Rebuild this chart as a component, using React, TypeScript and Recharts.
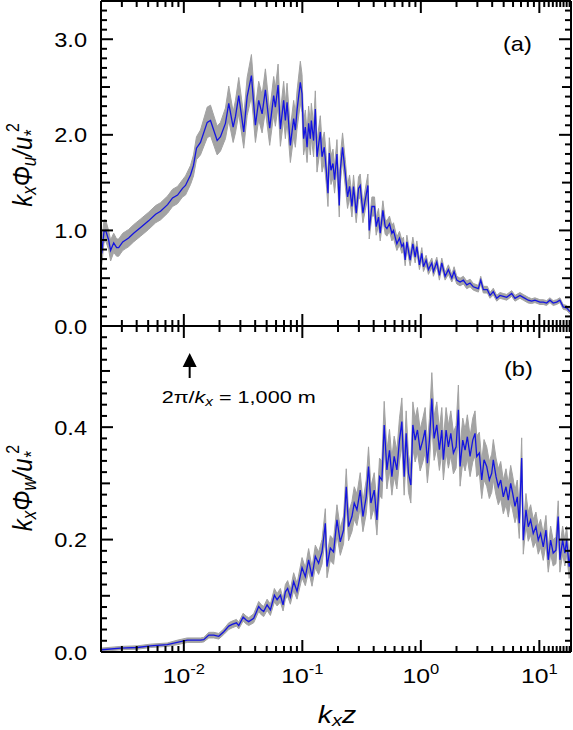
import { Area, ComposedChart, Line, ReferenceDot, XAxis, YAxis } from "recharts";

const FONT = '"Liberation Sans", Arial, Helvetica, sans-serif';
const STRETCH = 1.18;
const BLUE = "#1414e0";
const GREY = "#a3a3a3";

// kx*z values
const KZ_U = [
  0.00203, 0.00212, 0.00219, 0.00232, 0.00241, 0.00256, 0.00271, 0.00282, 0.00305, 0.00323,
  0.00342, 0.00377, 0.00432, 0.00504, 0.00578, 0.00636, 0.00729, 0.00803, 0.00885, 0.00975,
  0.01033, 0.01139, 0.01207, 0.01279, 0.01382, 0.01575, 0.01679, 0.01911, 0.02038, 0.02245,
  0.02394, 0.02607, 0.02727, 0.02907, 0.03203, 0.03421, 0.03719, 0.04018, 0.04283, 0.04576,
  0.04879, 0.05303, 0.05731, 0.05923, 0.06243, 0.06528, 0.06958, 0.07191, 0.07432, 0.07923,
  0.08449, 0.0873, 0.09022, 0.09618, 0.09942, 0.1025, 0.106, 0.1096, 0.113, 0.1168,
  0.1191, 0.1245, 0.1287, 0.133, 0.1418, 0.1466, 0.1532, 0.1593, 0.1646, 0.1689,
  0.1745, 0.1814, 0.1871, 0.196, 0.205, 0.209, 0.2185, 0.2303, 0.2408, 0.2503,
  0.2622, 0.2705, 0.285, 0.298, 0.308, 0.3246, 0.3394, 0.3576, 0.3668, 0.3865,
  0.4065, 0.4201, 0.4393, 0.454, 0.4785, 0.5004, 0.5172, 0.5438, 0.5697, 0.5877,
  0.6278, 0.6603, 0.6917, 0.7135, 0.7375, 0.7622, 0.8125, 0.8562, 0.8954, 0.9255,
  0.9731, 1.0195, 1.052, 1.108, 1.159, 1.238, 1.277, 1.364, 1.434, 1.503,
  1.602, 1.708, 1.825, 1.908, 2.011, 2.144, 2.285, 2.441, 2.603, 2.774,
  3.057, 3.203, 3.369, 3.64, 3.835, 4.089, 4.369, 4.658, 4.966, 5.303,
  5.844, 6.23, 6.865, 7.318, 8.064, 8.611, 9.182, 10.12, 10.79, 11.52,
  12.28, 13.09, 13.99, 14.91, 15.9, 16.98, 18.11,
];

// kx Phi_u / u*^2
const PHI_U = [
  0.76, 0.99, 1.0, 0.9, 0.79, 0.87, 0.82, 0.82, 0.88, 0.9,
  0.92, 0.97, 1.03, 1.1, 1.17, 1.2, 1.27, 1.34, 1.37, 1.44,
  1.47, 1.58, 1.68, 1.86, 1.92, 2.13, 2.15, 1.94, 1.98, 2.12,
  2.33, 2.08, 2.19, 2.41, 2.03, 2.4, 2.62, 2.1, 2.36, 2.22,
  2.47, 2.07, 2.41, 2.29, 2.52, 2.06, 2.36, 2.15, 2.34, 1.89,
  2.17, 2.05, 2.26, 2.55, 2.43, 1.96, 2.08, 1.87, 2.12, 1.96,
  2.15, 1.94, 2.27, 1.77, 2.03, 1.77, 1.87, 1.63, 1.39, 1.81,
  1.63, 1.7, 1.53, 1.8, 1.26, 1.63, 1.87, 1.6, 1.35, 1.46,
  1.25, 1.46, 1.18, 1.44, 1.47, 1.18, 1.32, 1.47, 1.0, 1.25,
  1.25, 1.04, 1.14, 0.97, 1.21, 1.04, 1.02, 1.07, 0.97, 1.0,
  0.86, 0.92, 0.83, 0.86, 0.69, 0.88, 0.69, 0.86, 0.72, 0.83,
  0.64, 0.76, 0.62, 0.69, 0.59, 0.66, 0.57, 0.67, 0.53, 0.66,
  0.52, 0.59, 0.5, 0.57, 0.48, 0.46, 0.48, 0.43, 0.45, 0.41,
  0.39, 0.48, 0.38, 0.38, 0.32, 0.36, 0.29, 0.32, 0.31, 0.3,
  0.34, 0.29, 0.32, 0.3, 0.27, 0.26, 0.27, 0.25, 0.25, 0.24,
  0.27, 0.24, 0.25, 0.27, 0.2, 0.19, 0.15,
];

// half-width of the grey band, panel (a)
const ERR_U = [
  0.12, 0.12, 0.11, 0.1, 0.11, 0.1, 0.09, 0.09, 0.09, 0.09,
  0.09, 0.09, 0.09, 0.09, 0.09, 0.09, 0.09, 0.09, 0.09, 0.09,
  0.1, 0.1, 0.11, 0.12, 0.13, 0.16, 0.16, 0.15, 0.15, 0.16,
  0.18, 0.16, 0.17, 0.19, 0.17, 0.2, 0.22, 0.18, 0.2, 0.2,
  0.22, 0.18, 0.2, 0.2, 0.22, 0.18, 0.2, 0.19, 0.2, 0.18,
  0.19, 0.18, 0.2, 0.22, 0.2, 0.17, 0.18, 0.16, 0.18, 0.17,
  0.18, 0.17, 0.19, 0.16, 0.17, 0.16, 0.16, 0.15, 0.14, 0.16,
  0.15, 0.15, 0.14, 0.15, 0.12, 0.14, 0.15, 0.14, 0.12, 0.12,
  0.11, 0.12, 0.1, 0.12, 0.12, 0.1, 0.11, 0.12, 0.09, 0.1,
  0.1, 0.09, 0.09, 0.08, 0.1, 0.08, 0.08, 0.08, 0.08, 0.08,
  0.07, 0.07, 0.07, 0.07, 0.06, 0.07, 0.06, 0.07, 0.06, 0.06,
  0.05, 0.06, 0.05, 0.05, 0.05, 0.05, 0.05, 0.05, 0.05, 0.05,
  0.04, 0.05, 0.04, 0.05, 0.04, 0.04, 0.04, 0.04, 0.04, 0.035,
  0.035, 0.04, 0.035, 0.035, 0.03, 0.035, 0.03, 0.03, 0.03, 0.03,
  0.03, 0.03, 0.03, 0.03, 0.03, 0.025, 0.025, 0.025, 0.025, 0.025,
  0.025, 0.025, 0.025, 0.025, 0.025, 0.025, 0.025,
];

// kx*z values
const KZ_W = [
  0.00203, 0.00293, 0.00405, 0.00524, 0.00725, 0.0088, 0.01068, 0.01382, 0.01474, 0.01624,
  0.01789, 0.01972, 0.02173, 0.02394, 0.02557, 0.0278, 0.02907, 0.03165, 0.03355, 0.03528,
  0.03888, 0.04283, 0.04514, 0.04721, 0.05042, 0.05376, 0.05809, 0.06123, 0.06528, 0.06877,
  0.07191, 0.07518, 0.07923, 0.08449, 0.09022, 0.09942, 0.106, 0.113, 0.1207, 0.1287,
  0.1372, 0.1466, 0.1563, 0.1615, 0.1722, 0.1835, 0.196, 0.209, 0.2228, 0.2348,
  0.2455, 0.2622, 0.2742, 0.2889, 0.308, 0.3246, 0.3461, 0.3619, 0.3791, 0.4043,
  0.4259, 0.4479, 0.4693, 0.4907, 0.5172, 0.5438, 0.5697, 0.5958, 0.6278, 0.6603,
  0.6917, 0.7233, 0.7519, 0.7862, 0.8237, 0.8562, 0.8954, 0.9363, 0.9865, 1.04,
  1.087, 1.136, 1.182, 1.238, 1.294, 1.364, 1.434, 1.503, 1.55, 1.634,
  1.708, 1.79, 1.883, 1.984, 2.074, 2.144, 2.258, 2.362, 2.469, 2.603,
  2.742, 2.867, 2.963, 3.117, 3.265, 3.414, 3.597, 3.783, 3.963, 4.089,
  4.31, 4.507, 4.721, 4.966, 5.231, 5.47, 5.73, 5.958, 6.23, 6.514,
  6.772, 7.095, 7.318, 7.712, 8.064, 8.446, 8.884, 9.363, 9.788, 10.25,
  10.79, 11.37, 11.89, 12.45, 13.09, 13.8, 14.43, 14.91, 15.72, 16.44,
  16.98, 17.86, 18.46,
];

// kx Phi_w / u*^2
const PHI_W = [
  0.004, 0.007, 0.008, 0.011, 0.013, 0.017, 0.021, 0.021, 0.022, 0.03,
  0.03, 0.028, 0.036, 0.046, 0.049, 0.052, 0.047, 0.062, 0.057, 0.054,
  0.06, 0.081, 0.075, 0.072, 0.084, 0.075, 0.101, 0.093, 0.101, 0.084,
  0.107, 0.113, 0.098, 0.125, 0.108, 0.15, 0.134, 0.164, 0.134, 0.17,
  0.158, 0.178, 0.229, 0.152, 0.185, 0.178, 0.235, 0.196, 0.217, 0.294,
  0.223, 0.241, 0.265, 0.253, 0.288, 0.241, 0.276, 0.33, 0.265, 0.288,
  0.235, 0.312, 0.306, 0.404, 0.324, 0.359, 0.312, 0.348, 0.324, 0.377,
  0.41, 0.312, 0.389, 0.318, 0.297, 0.404, 0.377, 0.395, 0.359, 0.377,
  0.395, 0.336, 0.377, 0.451, 0.38, 0.404, 0.36, 0.395, 0.342, 0.395,
  0.365, 0.389, 0.354, 0.365, 0.431, 0.33, 0.377, 0.359, 0.383, 0.348,
  0.377, 0.389, 0.348, 0.354, 0.306, 0.342, 0.33, 0.306, 0.318, 0.342,
  0.312, 0.294, 0.306, 0.276, 0.294, 0.27, 0.3, 0.282, 0.259, 0.276,
  0.229, 0.345, 0.199, 0.253, 0.223, 0.235, 0.211, 0.223, 0.199, 0.211,
  0.187, 0.217, 0.164, 0.199, 0.176, 0.181, 0.241, 0.164, 0.199, 0.176,
  0.199, 0.152, 0.181,
];

// half-width of the grey band, panel (b)
const ERR_W = [
  0.003, 0.003, 0.003, 0.003, 0.003, 0.004, 0.004, 0.004, 0.004, 0.005,
  0.005, 0.005, 0.005, 0.006, 0.006, 0.006, 0.006, 0.007, 0.007, 0.007,
  0.008, 0.009, 0.009, 0.009, 0.01, 0.01, 0.012, 0.011, 0.012, 0.011,
  0.013, 0.014, 0.013, 0.016, 0.014, 0.018, 0.016, 0.02, 0.017, 0.02,
  0.02, 0.022, 0.026, 0.02, 0.022, 0.022, 0.027, 0.024, 0.025, 0.032,
  0.025, 0.027, 0.029, 0.028, 0.031, 0.027, 0.03, 0.035, 0.029, 0.031,
  0.027, 0.033, 0.033, 0.042, 0.034, 0.037, 0.033, 0.036, 0.034, 0.039,
  0.042, 0.033, 0.04, 0.034, 0.032, 0.041, 0.039, 0.04, 0.037, 0.039,
  0.04, 0.035, 0.039, 0.046, 0.039, 0.041, 0.037, 0.04, 0.036, 0.04,
  0.038, 0.04, 0.037, 0.038, 0.044, 0.035, 0.039, 0.037, 0.039, 0.036,
  0.039, 0.04, 0.036, 0.037, 0.033, 0.036, 0.035, 0.033, 0.034, 0.036,
  0.033, 0.032, 0.033, 0.03, 0.032, 0.03, 0.032, 0.031, 0.029, 0.03,
  0.027, 0.036, 0.025, 0.029, 0.026, 0.027, 0.025, 0.026, 0.025, 0.025,
  0.024, 0.026, 0.022, 0.025, 0.023, 0.024, 0.028, 0.022, 0.025, 0.023,
  0.025, 0.021, 0.024,
];

const KZ_DOMAIN = [0.002, 18.5];
const X_TICKS = [
  0.002, 0.003, 0.004, 0.005, 0.006, 0.007, 0.008, 0.009,
  0.01, 0.02, 0.03, 0.04, 0.05, 0.06, 0.07, 0.08, 0.09,
  0.1, 0.2, 0.3, 0.4, 0.5, 0.6, 0.7, 0.8, 0.9,
  1, 2, 3, 4, 5, 6, 7, 8, 9,
  10, 11, 12, 13, 14, 15, 16, 17, 18,
];
const X_MAJOR = [0.01, 0.1, 1, 10];
const X_EXP = ["-2", "-1", "0", "1"];

const Y_DOMAIN_U = [0, 3.4];
const Y_TICKS_U = [
  0, 0.1, 0.2, 0.3, 0.4, 0.5, 0.6, 0.7, 0.8, 0.9, 1, 1.1, 1.2, 1.3, 1.4, 1.5, 1.6, 1.7,
  1.8, 1.9, 2, 2.1, 2.2, 2.3, 2.4, 2.5, 2.6, 2.7, 2.8, 2.9, 3, 3.1, 3.2, 3.3, 3.4,
];
const Y_MAJOR_U = [0, 1, 2, 3];
const Y_MID_U = [0.5, 1.5, 2.5];

const Y_DOMAIN_W = [0, 0.58];
const Y_TICKS_W = [
  0, 0.02, 0.04, 0.06, 0.08, 0.1, 0.12, 0.14, 0.16, 0.18, 0.2, 0.22, 0.24, 0.26, 0.28,
  0.3, 0.32, 0.34, 0.36, 0.38, 0.4, 0.42, 0.44, 0.46, 0.48, 0.5, 0.52, 0.54, 0.56, 0.58,
];
const Y_MAJOR_W = [0, 0.2, 0.4];
const Y_MID_W = [0.1, 0.3, 0.5];

// arrow marking 2pi/kx = 1,000 m
const ARROW_KZ = 0.0112;
const ARROW_TIP = 0.532;

const buildRows = (kz: number[], v: number[], e: number[]) =>
  kz.map((k, i) => ({ kz: k, v: v[i], band: [v[i] - e[i], v[i] + e[i]] }));

const dataU = buildRows(KZ_U, PHI_U, ERR_U);
const dataW = buildRows(KZ_W, PHI_W, ERR_W);

type Side = "left" | "right" | "top" | "bottom";

function makeTick(
  side: Side,
  majors: number[],
  mids: number[],
  label?: (v: number, x: number, y: number) => any
) {
  return (props: any) => {
    const { x, y, payload } = props;
    const v = payload.value;
    const isMajor = majors.some((m) => Math.abs(m - v) < 1e-9);
    const isMid = mids.some((m) => Math.abs(m - v) < 1e-9);
    const len = isMajor ? 12 : isMid ? 9 : 6;
    let x2 = x;
    let y2 = y;
    if (side === "left") x2 = x + len;
    if (side === "right") x2 = x - len;
    if (side === "top") y2 = y + len;
    if (side === "bottom") y2 = y - len;
    return (
      <g>
        <line x1={x} y1={y} x2={x2} y2={y2} stroke="#000" strokeWidth={2} />
        {isMajor && label ? label(v, x, y) : null}
      </g>
    );
  };
}

const yLabel = (v: number, x: number, y: number) => (
  <text
    transform={`translate(${x - 14},${y + 7.5}) scale(${STRETCH},1)`}
    textAnchor="end"
    fontSize={20}
    fontFamily={FONT}
    fill="#000"
  >
    {v.toFixed(1)}
  </text>
);

const xLabel = (v: number, x: number, y: number) => {
  const idx = X_MAJOR.indexOf(v);
  return (
    <text
      transform={`translate(${x},${y + 31}) scale(${STRETCH},1)`}
      textAnchor="middle"
      fontSize={21}
      fontFamily={FONT}
      fill="#000"
    >
      10
      <tspan fontSize={14} dy={-9}>
        {X_EXP[idx]}
      </tspan>
    </text>
  );
};

const axisLine = { stroke: "#000", strokeWidth: 2 };

function Panel({
  data,
  height,
  topH,
  bottomH,
  yDomain,
  yTicks,
  yMajor,
  yMid,
  showX,
  children,
}: any) {
  return (
    <ComposedChart width={573} height={height} data={data} margin={{ top: 0, right: 0, bottom: 0, left: 0 }}>
      <XAxis
        xAxisId="bottom"
        dataKey="kz"
        type="number"
        scale="log"
        domain={KZ_DOMAIN}
        allowDataOverflow
        ticks={X_TICKS}
        interval={0}
        height={bottomH}
        tickSize={0}
        tickMargin={0}
        tickLine={false}
        axisLine={axisLine}
        tick={makeTick("bottom", X_MAJOR, [], showX ? xLabel : undefined)}
      />
      <XAxis
        xAxisId="top"
        orientation="top"
        dataKey="kz"
        type="number"
        scale="log"
        domain={KZ_DOMAIN}
        allowDataOverflow
        ticks={X_TICKS}
        interval={0}
        height={topH}
        tickSize={0}
        tickMargin={0}
        tickLine={false}
        axisLine={axisLine}
        tick={makeTick("top", X_MAJOR, [])}
      />
      <YAxis
        yAxisId="left"
        type="number"
        domain={yDomain}
        allowDataOverflow
        ticks={yTicks}
        interval={0}
        width={101}
        tickSize={0}
        tickMargin={0}
        tickLine={false}
        axisLine={axisLine}
        tick={makeTick("left", yMajor, yMid, yLabel)}
      />
      <YAxis
        yAxisId="right"
        orientation="right"
        type="number"
        domain={yDomain}
        allowDataOverflow
        ticks={yTicks}
        interval={0}
        width={2}
        tickSize={0}
        tickMargin={0}
        tickLine={false}
        axisLine={axisLine}
        tick={makeTick("right", yMajor, yMid)}
      />
      <Area
        xAxisId="bottom"
        yAxisId="left"
        type="linear"
        dataKey="band"
        stroke={GREY}
        strokeWidth={1}
        fill={GREY}
        fillOpacity={1}
        isAnimationActive={false}
      />
      <Line
        xAxisId="bottom"
        yAxisId="left"
        type="linear"
        dataKey="v"
        stroke={BLUE}
        strokeWidth={1.3}
        dot={false}
        isAnimationActive={false}
      />
      {children}
    </ComposedChart>
  );
}

const ArrowMark = (props: any) => {
  const { cx, cy } = props;
  return (
    <g>
      <polygon points={`${cx},${cy} ${cx - 7},${cy + 14} ${cx + 7},${cy + 14}`} fill="#000" />
      <line x1={cx} y1={cy + 13} x2={cx} y2={cy + 25} stroke="#000" strokeWidth={2} />
      <text
        x={cx - 28}
        y={cy + 50}
        fontSize={17}
        fontFamily={FONT}
        fill="#000"
        textLength={154}
        lengthAdjust="spacingAndGlyphs"
      >
        2π/<tspan fontStyle="italic">k</tspan>
        <tspan fontSize={12} dy={3} fontStyle="italic">
          x
        </tspan>
        <tspan dy={-3}> = 1,000 m</tspan>
      </text>
    </g>
  );
};

export default function App() {
  return (
    <div style={{ position: "absolute", left: 0, top: 0, width: 573, height: 730, background: "#fff" }}>
      <div style={{ position: "absolute", left: 0, top: 0 }}>
        <Panel
          data={dataU}
          height={340}
          topH={1}
          bottomH={14}
          yDomain={Y_DOMAIN_U}
          yTicks={Y_TICKS_U}
          yMajor={Y_MAJOR_U}
          yMid={Y_MID_U}
          showX={false}
        />
      </div>
      <div style={{ position: "absolute", left: 0, top: 320 }}>
        <Panel
          data={dataW}
          height={410}
          topH={6}
          bottomH={78}
          yDomain={Y_DOMAIN_W}
          yTicks={Y_TICKS_W}
          yMajor={Y_MAJOR_W}
          yMid={Y_MID_W}
          showX={true}
        >
          <ReferenceDot
            xAxisId="bottom"
            yAxisId="left"
            x={ARROW_KZ}
            y={ARROW_TIP}
            r={0}
            shape={ArrowMark}
          />
        </Panel>
      </div>
      <svg
        width={573}
        height={730}
        style={{ position: "absolute", left: 0, top: 0, pointerEvents: "none" }}
        fontFamily={FONT}
      >
        <text transform={`translate(503,51) scale(${STRETCH},1)`} fontSize={20}>
          (a)
        </text>
        <text transform={`translate(504,376) scale(${STRETCH},1)`} fontSize={20}>
          (b)
        </text>
        <text
          transform={`translate(32,165) scale(${STRETCH},1) rotate(-90)`}
          textAnchor="middle"
          fontSize={24}
          fontStyle="italic"
        >
          k<tspan fontSize={17} dy={3}>x</tspan>
          <tspan dy={-3}>Φ</tspan>
          <tspan fontSize={17} dy={3}>u</tspan>
          <tspan dy={-3}>/u</tspan>
          <tspan fontSize={17} dy={5}>*</tspan>
          <tspan fontSize={16} dy={-16} dx={-2} fontStyle="normal">2</tspan>
        </text>
        <text
          transform={`translate(32,488) scale(${STRETCH},1) rotate(-90)`}
          textAnchor="middle"
          fontSize={24}
          fontStyle="italic"
        >
          k<tspan fontSize={17} dy={3}>x</tspan>
          <tspan dy={-3}>Φ</tspan>
          <tspan fontSize={17} dy={3}>w</tspan>
          <tspan dy={-3}>/u</tspan>
          <tspan fontSize={17} dy={5}>*</tspan>
          <tspan fontSize={16} dy={-16} dx={-2} fontStyle="normal">2</tspan>
        </text>
        <text
          transform={`translate(337,723) scale(${STRETCH},1)`}
          textAnchor="middle"
          fontSize={24}
          fontStyle="italic"
        >
          k<tspan fontSize={17} dy={3}>x</tspan>
          <tspan dy={-3}>z</tspan>
        </text>
      </svg>
    </div>
  );
}
